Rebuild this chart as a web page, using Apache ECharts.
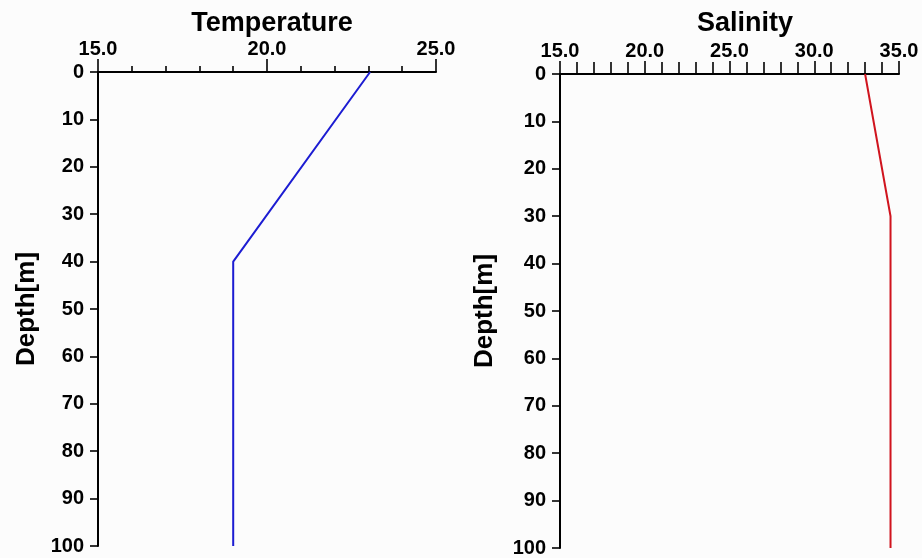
<!DOCTYPE html>
<html><head><meta charset="utf-8">
<script src="https://cdn.jsdelivr.net/npm/echarts@6/dist/echarts.min.js"></script>
<style>html,body{margin:0;padding:0;background:#fcfcfc}#c{width:922px;height:558px}</style>
</head><body><div id="c"></div>
<script>
const tempDepths = [0, 40, 100];
const tempValues = [23.05, 19.0, 19.0];
const salDepths = [0, 30, 100];
const salValues = [33.0, 34.5, 34.5];
const depthTicks = [0, 10, 20, 30, 40, 50, 60, 70, 80, 90, 100];

const FONT = '"Liberation Sans", Arial, sans-serif';
const chart = echarts.init(document.getElementById('c'), null, {renderer: 'canvas'});

function xAx(idx, min, max, minorLen) {
  return {
    type: 'value', gridIndex: idx, position: 'top', min: min, max: max, interval: 5,
    axisLine: {show: true, lineStyle: {color: '#000', width: 2}},
    axisTick: {show: true, inside: false, length: 13, lineStyle: {color: '#000', width: 1.6}},
    minorTick: {show: true, splitNumber: 5, length: minorLen, lineStyle: {color: '#000', width: 1.6}},
    splitLine: {show: false},
    axisLabel: {color: '#000', fontWeight: 'bold', fontSize: 20, fontFamily: FONT, margin: 13,
      formatter: v => v.toFixed(1)}
  };
}
function yAx(idx, gap) {
  return {
    type: 'value', gridIndex: idx, inverse: true, min: 0, max: 100, interval: 10,
    name: 'Depth[m]', nameLocation: 'middle', nameRotate: 90, nameGap: gap,
    nameTextStyle: {color: '#000', fontWeight: 'bold', fontSize: 26, fontFamily: FONT},
    axisLine: {show: true, lineStyle: {color: '#000', width: 2}},
    axisTick: {show: true, inside: false, length: 8, lineStyle: {color: '#000', width: 1.6}},
    splitLine: {show: false},
    axisLabel: {color: '#000', fontWeight: 'bold', fontSize: 20, fontFamily: FONT, margin: 14,
      customValues: depthTicks}
  };
}

chart.setOption({
  backgroundColor: '#fcfcfc',
  animation: false,
  title: [
    {text: 'Temperature', left: 267, top: 5, textAlign: 'center',
     textStyle: {fontWeight: 'bold', fontSize: 27, fontFamily: FONT, color: '#000'}},
    {text: 'Salinity', left: 740, top: 5, textAlign: 'center',
     textStyle: {fontWeight: 'bold', fontSize: 27, fontFamily: FONT, color: '#000'}}
  ],
  grid: [
    {left: 98, top: 72, width: 338, height: 474},
    {left: 560, top: 74, width: 339, height: 474}
  ],
  xAxis: [xAx(0, 15, 25, 6), xAx(1, 15, 35, 12)],
  yAxis: [yAx(0, 58), yAx(1, 62)],
  series: [
    {type: 'line', xAxisIndex: 0, yAxisIndex: 0, symbol: 'none',
     lineStyle: {color: '#1c1cd2', width: 2},
     data: tempDepths.map((d, i) => [tempValues[i], d])},
    {type: 'line', xAxisIndex: 1, yAxisIndex: 1, symbol: 'none',
     lineStyle: {color: '#d0141e', width: 2},
     data: salDepths.map((d, i) => [salValues[i], d])}
  ]
});
</script></body></html>
